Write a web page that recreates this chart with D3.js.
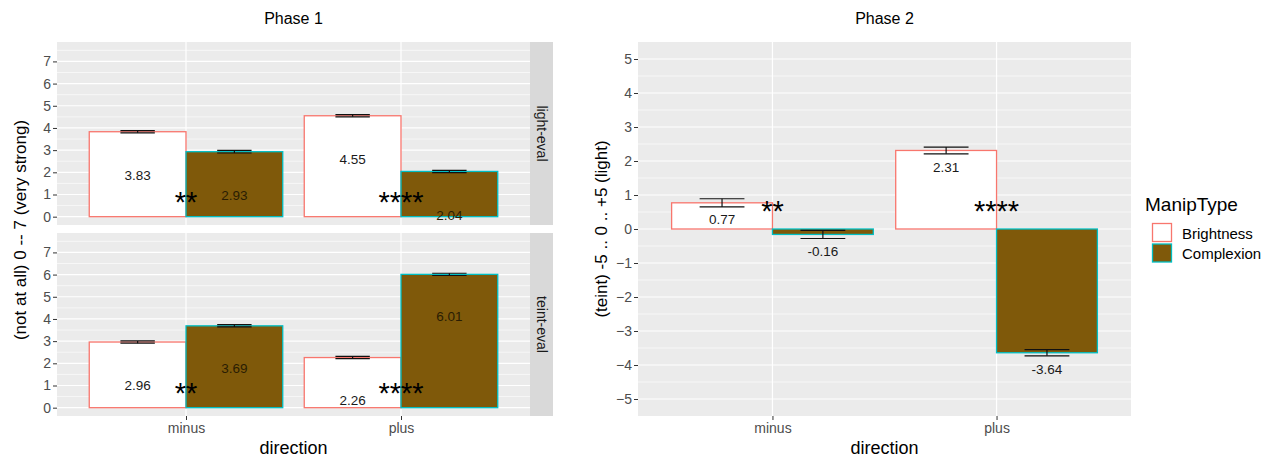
<!DOCTYPE html>
<html>
<head>
<meta charset="utf-8">
<script src="https://cdn.jsdelivr.net/npm/d3@7"></script>
<style>
  body { margin: 0; background: #fff; }
  svg { font-family: "Liberation Sans", Arial, sans-serif; }
</style>
</head>
<body>
<div id="chart"></div>
<script>
// ---- data ----
var directions = ['minus', 'plus'];
var manipTypes = ['Brightness', 'Complexion'];
var facets = ['light-eval', 'teint-eval'];

// Phase 1 means / standard errors / label heights, per facet
var p1LightBrightness = [3.83, 4.55];
var p1LightComplexion = [2.93, 2.04];
var p1TeintBrightness = [2.96, 2.26];
var p1TeintComplexion = [3.69, 6.01];
var p1LightBrightnessSe = [0.05, 0.05];
var p1LightComplexionSe = [0.06, 0.05];
var p1TeintBrightnessSe = [0.05, 0.05];
var p1TeintComplexionSe = [0.05, 0.05];
var p1LightBrightnessLabelY = [1.85, 2.56];
var p1LightComplexionLabelY = [0.95, 0.04];
var p1TeintBrightnessLabelY = [1.0, 0.33];
var p1TeintComplexionLabelY = [1.75, 4.1];
var p1Stars = ['**', '****'];
var p1StarY = [0.95, 0.95];
var p1Ticks = [0, 1, 2, 3, 4, 5, 6, 7];

// Phase 2
var p2Brightness = [0.77, 2.31];
var p2Complexion = [-0.16, -3.64];
var p2BrightnessSe = [0.12, 0.10];
var p2ComplexionSe = [0.12, 0.09];
var p2Stars = ['**', '****'];
var p2StarY = [0.71, 0.71];
var p2Ticks = [-5, -4, -3, -2, -1, 0, 1, 2, 3, 4, 5];

var fills = { Brightness: '#ffffff', Complexion: '#7f590a' };
var strokes = { Brightness: '#f8766d', Complexion: '#00bfc4' };

var W = 1270, H = 457;
var svg = d3.select('#chart').append('svg')
    .attr('width', W).attr('height', H);

function rows(bright, comp, brightSe, compSe, brightLab, compLab) {
    var out = [];
    directions.forEach(function(d, i) {
        out.push({ dir: d, type: 'Brightness', mean: bright[i], se: brightSe[i], labY: brightLab[i] });
        out.push({ dir: d, type: 'Complexion', mean: comp[i], se: compSe[i], labY: compLab[i] });
    });
    return out;
}

// draw one panel: g translated, x scale continuous over 0.4..2.6 positions
function drawPanel(g, cfg) {
    var x = d3.scaleLinear().domain([0.4, 2.6]).range([0, cfg.width]);
    var y = d3.scaleLinear().domain(cfg.domain).range([cfg.height, 0]);

    g.append('rect').attr('width', cfg.width).attr('height', cfg.height).attr('fill', '#ebebeb');

    // minor grid
    var minor = [];
    for (var v = cfg.ticks[0] - 0.5; v <= cfg.ticks[cfg.ticks.length - 1] + 0.5; v += 1) minor.push(v);
    g.selectAll('.minor').data(minor.filter(function(v) { return y(v) > 0 && y(v) < cfg.height; }))
        .enter().append('line')
        .attr('x1', 0).attr('x2', cfg.width)
        .attr('y1', function(d) { return y(d); }).attr('y2', function(d) { return y(d); })
        .attr('stroke', '#fff').attr('stroke-width', 0.6);
    g.selectAll('.major').data(cfg.ticks).enter().append('line')
        .attr('x1', 0).attr('x2', cfg.width)
        .attr('y1', function(d) { return y(d); }).attr('y2', function(d) { return y(d); })
        .attr('stroke', '#fff').attr('stroke-width', 1.2);
    g.selectAll('.vmajor').data(directions).enter().append('line')
        .attr('x1', function(d, i) { return x(i + 1); }).attr('x2', function(d, i) { return x(i + 1); })
        .attr('y1', 0).attr('y2', cfg.height)
        .attr('stroke', '#fff').attr('stroke-width', 1.2);

    // y axis
    var yAxis = g.append('g').call(d3.axisLeft(y).tickValues(cfg.ticks).tickSize(4).tickPadding(2));
    yAxis.select('.domain').remove();
    yAxis.selectAll('line').attr('stroke', '#333');
    yAxis.selectAll('text').attr('fill', '#4d4d4d').style('font-size', '14px');

    if (cfg.xAxis) {
        var xAxis = g.append('g').attr('transform', 'translate(0,' + cfg.height + ')')
            .call(d3.axisBottom(x).tickValues([1, 2]).tickFormat(function(d) { return directions[d - 1]; })
                .tickSize(4).tickPadding(3));
        xAxis.select('.domain').remove();
        xAxis.selectAll('line').attr('stroke', '#333');
        xAxis.selectAll('text').attr('fill', '#4d4d4d').style('font-size', '14px');
    }

    var data = cfg.data;
    var barW = 0.45;
    function left(d) {
        var c = directions.indexOf(d.dir) + 1;
        return d.type === 'Brightness' ? c - barW : c;
    }
    g.selectAll('.bar').data(data).enter().append('rect')
        .attr('x', function(d) { return x(left(d)); })
        .attr('width', function(d) { return x(left(d) + barW) - x(left(d)); })
        .attr('y', function(d) { return y(Math.max(0, d.mean)); })
        .attr('height', function(d) { return Math.abs(y(d.mean) - y(0)); })
        .attr('fill', function(d) { return fills[d.type]; })
        .attr('stroke', function(d) { return strokes[d.type]; })
        .attr('stroke-width', 1.3);

    // error bars
    var ew = cfg.errW / 2;
    data.forEach(function(d) {
        var cx = left(d) + barW / 2;
        var eb = g.append('g').attr('stroke', '#111').attr('stroke-width', 1.2);
        eb.append('line').attr('x1', x(cx)).attr('x2', x(cx))
            .attr('y1', y(d.mean - d.se)).attr('y2', y(d.mean + d.se));
        [d.mean - d.se, d.mean + d.se].forEach(function(v) {
            eb.append('line').attr('x1', x(cx - ew)).attr('x2', x(cx + ew))
                .attr('y1', y(v)).attr('y2', y(v));
        });
    });

    // value labels
    g.selectAll('.lab').data(data).enter().append('text')
        .attr('x', function(d) { return x(left(d) + barW / 2); })
        .attr('y', function(d) { return y(d.labY); })
        .attr('text-anchor', 'middle').attr('dominant-baseline', 'central')
        .attr('fill', function(d) { return d.type === 'Complexion' && cfg.darkLabels ? '#2a1d03' : '#1a1a1a'; })
        .style('font-size', '13.5px')
        .text(function(d) { return d.mean.toFixed(2); });

    // significance stars
    g.selectAll('.star').data(cfg.stars).enter().append('text')
        .attr('x', function(d, i) { return x(i + 1); })
        .attr('y', function(d, i) { return y(cfg.starY[i]) + 16; })
        .attr('text-anchor', 'middle')
        .attr('fill', '#000')
        .style('font-size', '29px')
        .text(function(d) { return d; });

    return { x: x, y: y };
}

// ---- Phase 1 ----
var p1Left = 57, p1Width = 473, p1Height = 183;
var p1Tops = [42, 233];
var p1Data = [
    rows(p1LightBrightness, p1LightComplexion, p1LightBrightnessSe, p1LightComplexionSe, p1LightBrightnessLabelY, p1LightComplexionLabelY),
    rows(p1TeintBrightness, p1TeintComplexion, p1TeintBrightnessSe, p1TeintComplexionSe, p1TeintBrightnessLabelY, p1TeintComplexionLabelY)
];
facets.forEach(function(f, i) {
    var g = svg.append('g').attr('transform', 'translate(' + p1Left + ',' + p1Tops[i] + ')');
    drawPanel(g, {
        width: p1Width, height: p1Height, domain: [-0.375, 7.875], ticks: p1Ticks,
        data: p1Data[i], stars: p1Stars, starY: p1StarY, errW: 0.16, xAxis: i === 1, darkLabels: true
    });
    // strip
    var s = svg.append('g').attr('transform', 'translate(' + (p1Left + p1Width) + ',' + p1Tops[i] + ')');
    s.append('rect').attr('width', 23).attr('height', p1Height).attr('fill', '#d9d9d9');
    s.append('text').attr('transform', 'translate(11.5,' + (p1Height / 2) + ') rotate(90)')
        .attr('text-anchor', 'middle').attr('dominant-baseline', 'central')
        .attr('fill', '#1a1a1a').style('font-size', '14px').text(f);
});
svg.append('text').attr('x', p1Left + p1Width / 2).attr('y', 24).attr('text-anchor', 'middle')
    .style('font-size', '16px').text('Phase 1');
svg.append('text').attr('transform', 'translate(26,230) rotate(-90)').attr('text-anchor', 'middle')
    .style('font-size', '17px').text('(not at all) 0 -- 7 (very strong)');
svg.append('text').attr('x', p1Left + p1Width / 2).attr('y', 454).attr('text-anchor', 'middle')
    .style('font-size', '18px').text('direction');

// ---- Phase 2 ----
var p2Left = 638, p2Width = 493, p2Top = 42, p2Height = 374;
var p2g = svg.append('g').attr('transform', 'translate(' + p2Left + ',' + p2Top + ')');
drawPanel(p2g, {
    width: p2Width, height: p2Height, domain: [-5.5, 5.5], ticks: p2Ticks,
    data: rows(p2Brightness, p2Complexion, p2BrightnessSe, p2ComplexionSe,
        p2Brightness.map(function(v) { return v - 0.5; }),
        p2Complexion.map(function(v) { return v - 0.5; })),
    stars: p2Stars, starY: p2StarY, errW: 0.2, xAxis: true, darkLabels: false
});
svg.append('text').attr('x', p2Left + p2Width / 2).attr('y', 24).attr('text-anchor', 'middle')
    .style('font-size', '16px').text('Phase 2');
svg.append('text').attr('transform', 'translate(607,229) rotate(-90)').attr('text-anchor', 'middle')
    .style('font-size', '17px').text('(teint) -5 .. 0 .. +5 (light)');
svg.append('text').attr('x', p2Left + p2Width / 2).attr('y', 454).attr('text-anchor', 'middle')
    .style('font-size', '18px').text('direction');

// ---- legend ----
var lg = svg.append('g').attr('transform', 'translate(1145,0)');
lg.append('text').attr('x', 0).attr('y', 211).style('font-size', '19px').text('ManipType');
manipTypes.forEach(function(t, i) {
    lg.append('rect').attr('x', 7.5).attr('y', 223.5 + i * 20.5).attr('width', 19).attr('height', 18)
        .attr('fill', fills[t]).attr('stroke', strokes[t]).attr('stroke-width', 1.3);
    lg.append('text').attr('x', 37).attr('y', 233 + i * 20.5).attr('dominant-baseline', 'central')
        .style('font-size', '15px').text(t);
});
</script>
</body>
</html>
